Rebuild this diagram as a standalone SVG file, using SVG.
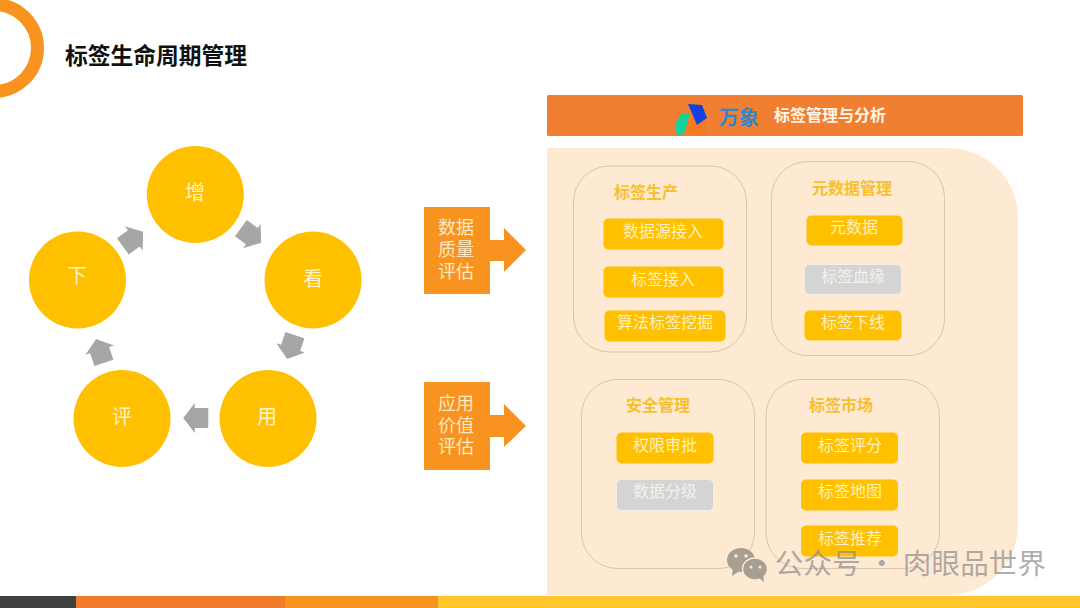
<svg xmlns="http://www.w3.org/2000/svg" width="1080" height="608" viewBox="0 0 1080 608">
<style>
text{font-family:"Noto Sans CJK SC","Liberation Sans",sans-serif;text-anchor:middle}
.c{fill:#FFC000}
.ct{font-size:20px;fill:#FFF3C6}
.gb{fill:none;stroke:#D9C4AE;stroke-width:1}
.h{font-size:16px;font-weight:700;fill:#F6C02E}
.b{fill:#FFC000}
.g{fill:#D4D4D4;stroke:#F3EFEA;stroke-width:1}
.bt{font-size:16px;fill:#FFF0BE}
.gt{font-size:16px;fill:#F4F1EC}
.q{fill:#F7931E}
.qt{font-size:18px;fill:#FDE8C4}
.wm{fill:#A89F93}
</style>
<defs>
<path id="blk" d="M-12.5,-10H1V-15L12.5,0L1,15V10H-12.5Z" fill="#A6A6A6"/>
</defs>
<rect width="1080" height="608" fill="#FFFFFF"/>
<circle cx="-6" cy="48" r="43.5" fill="none" stroke="#F7931E" stroke-width="13"/>
<text x="156" y="64" style="font-size:22.75px;font-weight:700;fill:#111111">标签生命周期管理</text>

<g id="connectors">
<use href="#blk" transform="translate(251,235.5) rotate(36)"/>
<use href="#blk" transform="translate(291,347) rotate(108)"/>
<use href="#blk" transform="translate(195.75,418) rotate(180)"/>
<use href="#blk" transform="translate(100,351) rotate(-108)"/>
<use href="#blk" transform="translate(133,239) rotate(-36)"/>
</g>
<g id="node-zeng"><circle class="c" cx="195.3" cy="194.5" r="48.5"/><text class="ct" x="195" y="200">增</text></g>
<g id="node-kan"><circle class="c" cx="313" cy="280" r="48.5"/><text class="ct" x="313" y="286">看</text></g>
<g id="node-yong"><circle class="c" cx="268" cy="418.5" r="48.5"/><text class="ct" x="267" y="424">用</text></g>
<g id="node-ping"><circle class="c" cx="122" cy="418.5" r="48.5"/><text class="ct" x="122" y="424">评</text></g>
<g id="node-xia"><circle class="c" cx="77.5" cy="280" r="48.5"/><text class="ct" x="77" y="283">下</text></g>

<g id="eval-quality">
<path class="q" d="M424,207H490V240H504V228L526,250L504,272V261H490V294H424Z"/>
<text class="qt" x="456" y="234">数据</text><text class="qt" x="456" y="256">质量</text><text class="qt" x="456" y="278">评估</text>
</g>
<g id="eval-value">
<path class="q" d="M424,382H490V415H504V404L526,426L504,447V437H490V470H424Z"/>
<text class="qt" x="456" y="410">应用</text><text class="qt" x="456" y="432">价值</text><text class="qt" x="456" y="453">评估</text>
</g>

<g id="panel">
<path d="M547,150Q547,148 549,148H948A70,70 0 0 1 1018,218V525A70,70 0 0 1 948,595H547Z" fill="#FEE9D3"/>
</g>
<g id="header">
<rect x="547" y="95" width="476" height="41" rx="1.5" fill="#F07F32"/>
<circle cx="697" cy="126" r="10" fill="#F47A20"/>
<path d="M675,125L681,114L690,113L684,134L677,135Z" fill="#12D39A"/>
<path d="M688,104L702,105L707,118L697,125Z" fill="#1241E0"/>
<text x="739" y="125" style="font-size:20px;font-weight:700;fill:#2E87C9">万象</text>
<text x="830" y="121" style="font-size:16px;font-weight:700;fill:#FFF6EA">标签管理与分析</text>
</g>

<g id="group-production">
<rect class="gb" x="573.5" y="166" width="173" height="186" rx="36"/>
<text class="h" x="646" y="198">标签生产</text>
<rect class="b" x="603.5" y="218.500" width="120" height="31" rx="5"/><text class="bt" x="663" y="237">数据源接入</text>
<rect class="b" x="603.5" y="266.500" width="120" height="31" rx="5"/><text class="bt" x="663" y="285">标签接入</text>
<rect class="b" x="604.5" y="310.500" width="121" height="31" rx="5"/><text class="bt" x="665" y="328">算法标签挖掘</text>
</g>
<g id="group-metadata">
<rect class="gb" x="771.5" y="161.500" width="173" height="194" rx="36"/>
<text class="h" x="852" y="194">元数据管理</text>
<rect class="b" x="806.5" y="215.500" width="96" height="30" rx="5"/><text class="bt" x="854" y="233">元数据</text>
<rect class="g" x="804.5" y="264.500" width="97" height="30" rx="5"/><text class="gt" x="853" y="282">标签血缘</text>
<rect class="b" x="804.5" y="310.500" width="97" height="30" rx="5"/><text class="bt" x="853" y="328">标签下线</text>
</g>
<g id="group-security">
<rect class="gb" x="581.5" y="379.500" width="173" height="189" rx="36"/>
<text class="h" x="658" y="411">安全管理</text>
<rect class="b" x="616.500" y="432.500" width="97" height="31" rx="5"/><text class="bt" x="665" y="451">权限审批</text>
<rect class="g" x="616.500" y="479.500" width="97" height="31" rx="5"/><text class="gt" x="665" y="497">数据分级</text>
</g>
<g id="group-market">
<rect class="gb" x="766" y="379.500" width="173.500" height="189" rx="36"/>
<text class="h" x="841" y="411">标签市场</text>
<rect class="b" x="801" y="432.500" width="97" height="31" rx="5"/><text class="bt" x="850" y="451">标签评分</text>
<rect class="b" x="801" y="479.500" width="97" height="31" rx="5"/><text class="bt" x="850" y="497">标签地图</text>
<rect class="b" x="801" y="525.500" width="97" height="31" rx="5"/><text class="bt" x="850" y="544">标签推荐</text>
</g>

<g id="footer">
<rect x="0" y="596" width="76" height="12" fill="#404040"/>
<rect x="76" y="596" width="209" height="12" fill="#F07B28"/>
<rect x="285" y="596" width="153" height="12" fill="#F79420"/>
<rect x="438" y="596" width="642" height="12" fill="#FFC72C"/>
</g>

<g id="watermark">
<ellipse class="wm" cx="741" cy="560" rx="14" ry="12"/>
<path class="wm" d="M733,568L732,576L741,570Z"/>
<ellipse cx="755" cy="569" rx="12.500" ry="11" fill="#A89F93" stroke="#FEE9D3" stroke-width="1.500"/>
<path class="wm" d="M759,578L764,582L763,573Z"/>
<circle cx="736" cy="556" r="1.800" fill="#FEE9D3"/><circle cx="746" cy="556" r="1.800" fill="#FEE9D3"/>
<circle cx="751" cy="567" r="1.500" fill="#FEE9D3"/><circle cx="760" cy="567" r="1.500" fill="#FEE9D3"/>
<text x="910.5" y="574" style="font-size:28.500px;fill:#8F8F8F;fill-opacity:.72;letter-spacing:.2px">公众号 · 肉眼品世界</text>
</g>
</svg>
